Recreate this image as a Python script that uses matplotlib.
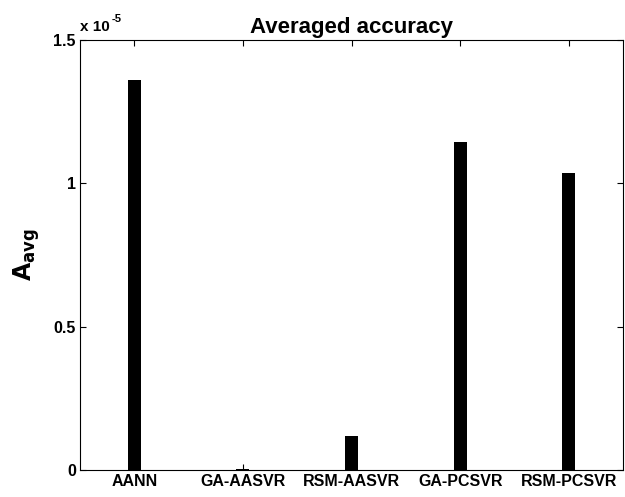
import numpy as np
import matplotlib.pyplot as plt

plt.rcParams['font.family'] = ['Liberation Sans', 'DejaVu Sans']
plt.rcParams['font.weight'] = 'bold'

# data
models = ['AANN', 'GA-AASVR', 'RSM-AASVR', 'GA-PCSVR', 'RSM-PCSVR']
a_avg = [1.36e-5, 0.004e-5, 0.12e-5, 1.145e-5, 1.035e-5]

fig = plt.figure(figsize=(6.25, 4.97), dpi=100)
ax = fig.add_axes([0.128, 0.054, 0.869, 0.866])

x = np.arange(1, len(models) + 1)
ax.bar(x, a_avg, width=0.12, color='black')

ax.set_xlim(0.5, 5.5)
ax.set_ylim(0, 1.5e-5)
ax.set_xticks(x)
ax.set_xticklabels(models, fontsize=11.5, fontweight='bold')
ax.set_yticks([0, 0.5e-5, 1e-5, 1.5e-5])
ax.set_yticklabels(['0', '0.5', '1', '1.5'], fontsize=11.5, fontweight='bold')
ax.tick_params(direction='in', top=True, right=True, length=4, pad=3)

# exponent label, matlab style
ax.annotate('x 10', xy=(0, 1), xycoords='axes fraction', xytext=(0, 4),
            textcoords='offset points', fontsize=11, fontweight='bold',
            ha='left', va='bottom')
ax.annotate('-5', xy=(0, 1), xycoords='axes fraction', xytext=(22.5, 11),
            textcoords='offset points', fontsize=8, fontweight='bold',
            ha='left', va='bottom')

ax.set_title('Averaged accuracy', fontsize=16, fontweight='bold', pad=5)
ax.set_ylabel(r'$\mathbf{A_{avg}}$', fontsize=17, labelpad=8)

fig.savefig('out.png', dpi=100)
